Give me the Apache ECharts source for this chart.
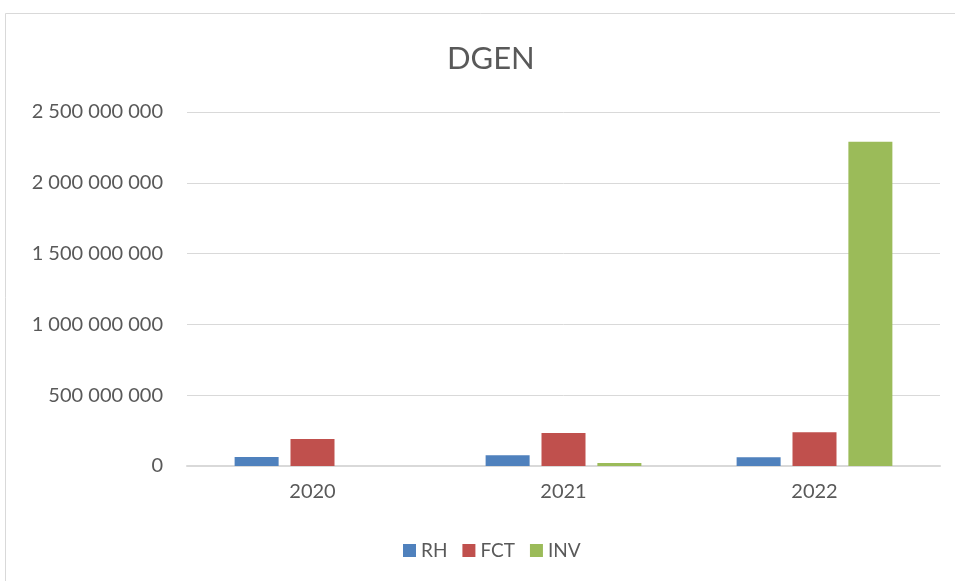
<!DOCTYPE html>
<html>
<head>
	<meta charset="utf-8">
	<title>DGEN</title>
	<script src="https://cdn.jsdelivr.net/npm/echarts@6/dist/echarts.min.js"></script>
	<style>
		html, body { margin: 0; padding: 0; background: #fff; }
		#main { width: 955px; height: 581px; }
	</style>
</head>
<body>
	<div id="main"></div>
	<script type="text/javascript">
		// données
		var years = ['2020', '2021', '2022'];
		var rh = [64000000, 76000000, 61000000];
		var fct = [191000000, 233000000, 238000000];
		var inv = [0, 21000000, 2290000000];

		var txt = '#595959';
		var font = 'Lato';

		function spaced(v) {
			return String(v).replace(/\B(?=(\d{3})+(?!\d))/g, ' ');
		}

		var myChart = echarts.init(document.getElementById('main'));

		var option = {
			animation: false,
			backgroundColor: '#fff',
			graphic: [{
				type: 'rect',
				shape: { x: 5.5, y: 13.5, width: 1200, height: 1000 },
				style: { fill: 'none', stroke: '#d9d9d9', lineWidth: 1 }
			}],
			title: {
				text: 'DGEN',
				left: 442,
				top: 38,
				textStyle: { color: txt, fontFamily: font, fontWeight: 'normal', fontSize: 31 }
			},
			legend: {
				bottom: 16,
				left: 398,
				itemWidth: 13,
				itemHeight: 13,
				itemGap: 15,
				icon: 'rect',
				textStyle: { color: txt, fontFamily: font, fontSize: 19, padding: [0, 0, 0, 0] },
				data: ['RH', 'FCT', 'INV']
			},
			grid: {
				left: 187,
				right: 15,
				top: 112,
				bottom: 115
			},
			xAxis: {
				type: 'category',
				data: years,
				axisTick: { show: false },
				axisLine: { lineStyle: { color: '#d9d9d9', width: 2 } },
				axisLabel: { color: txt, fontFamily: font, fontSize: 20, margin: 16 }
			},
			yAxis: {
				type: 'value',
				min: 0,
				max: 2500000000,
				interval: 500000000,
				axisLine: { show: false },
				axisTick: { show: false },
				splitLine: { lineStyle: { color: '#d9d9d9', width: 1 } },
				axisLabel: {
					color: txt, fontFamily: font, fontSize: 20, margin: 24,
					formatter: function (v) { return spaced(v); }
				}
			},
			series: [
				{ name: 'RH', type: 'bar', data: rh, barWidth: 44, barGap: '27%',
					itemStyle: { color: '#4f81bd' } },
				{ name: 'FCT', type: 'bar', data: fct, barWidth: 44, barGap: '27%',
					itemStyle: { color: '#c0504d' } },
				{ name: 'INV', type: 'bar', data: inv, barWidth: 44, barGap: '27%',
					itemStyle: { color: '#9bbb59' } }
			]
		};

		myChart.setOption(option);
	</script>
</body>
</html>
